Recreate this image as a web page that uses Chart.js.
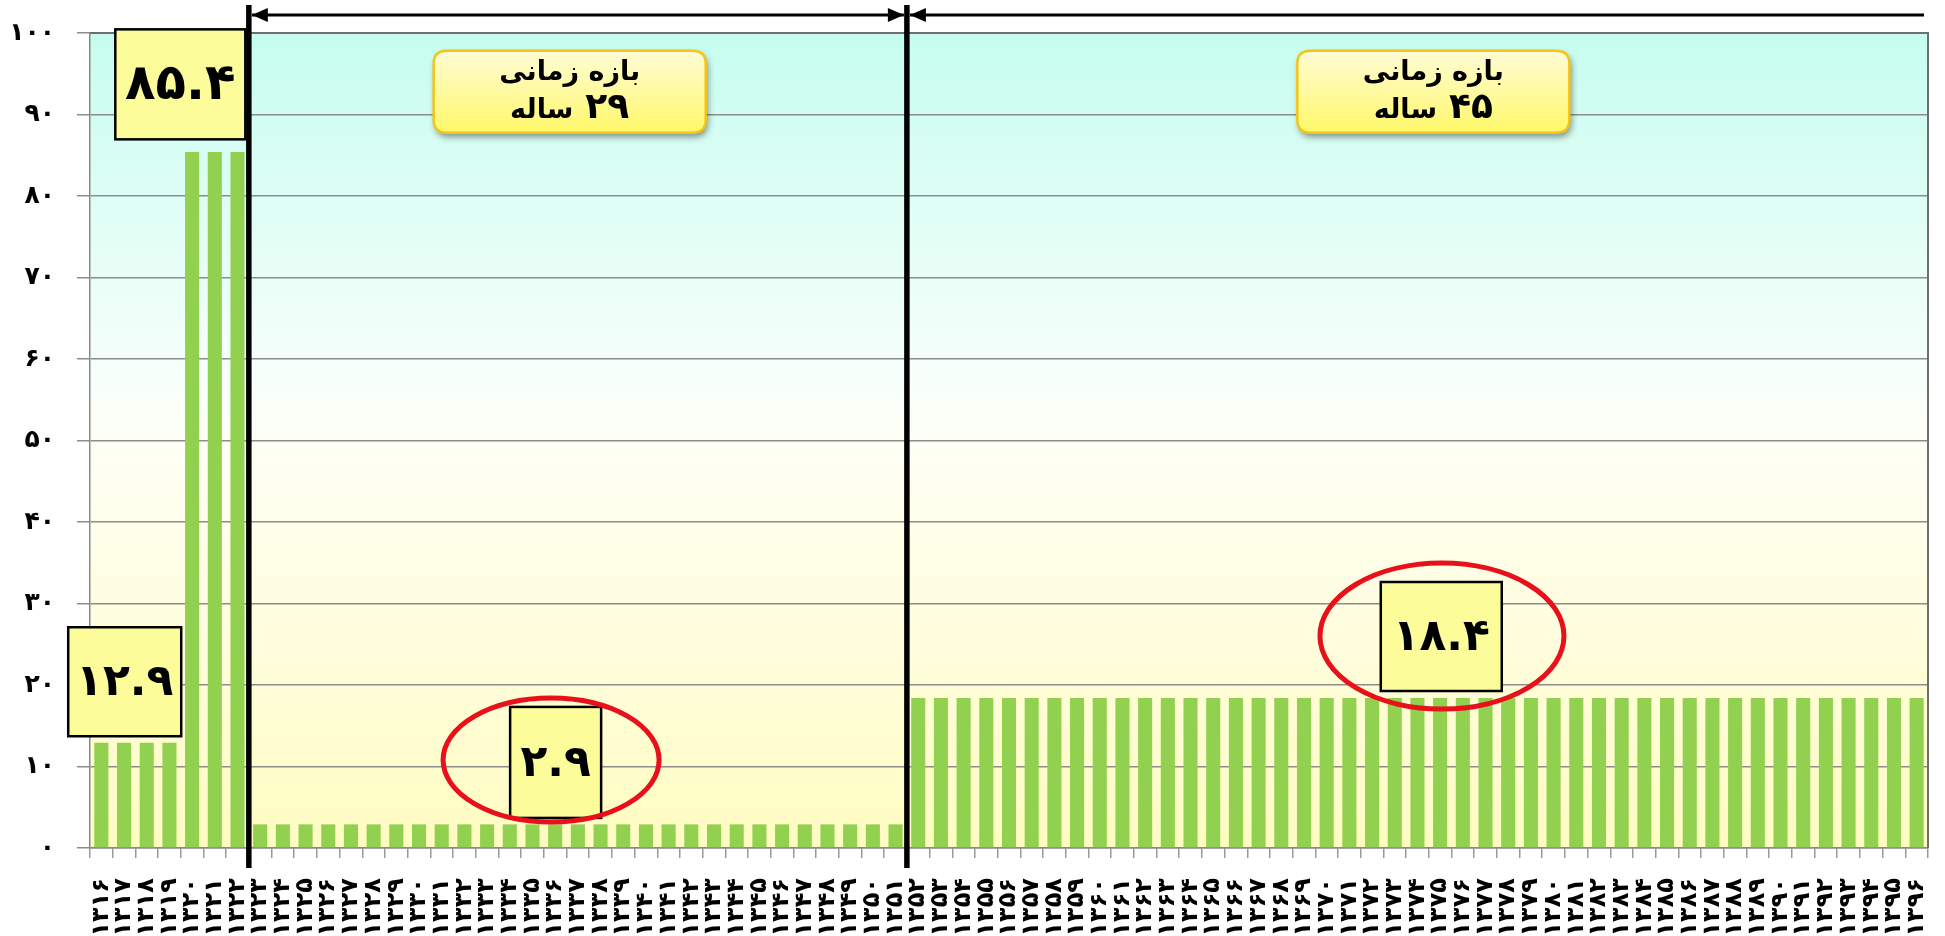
<!DOCTYPE html>
<html><head><meta charset="utf-8">
<script src="https://cdn.jsdelivr.net/npm/chart.js@4/dist/chart.umd.min.js"></script>
<style>html,body{margin:0;padding:0;background:#fff;overflow:hidden}</style>
</head><body>
<canvas id="c" width="1945" height="936"></canvas>
<script>
const years = [
'۱۳۱۶','۱۳۱۷','۱۳۱۸','۱۳۱۹',
'۱۳۲۰','۱۳۲۱','۱۳۲۲','۱۳۲۳','۱۳۲۴','۱۳۲۵','۱۳۲۶','۱۳۲۷','۱۳۲۸','۱۳۲۹',
'۱۳۳۰','۱۳۳۱','۱۳۳۲','۱۳۳۳','۱۳۳۴','۱۳۳۵','۱۳۳۶','۱۳۳۷','۱۳۳۸','۱۳۳۹',
'۱۳۴۰','۱۳۴۱','۱۳۴۲','۱۳۴۳','۱۳۴۴','۱۳۴۵','۱۳۴۶','۱۳۴۷','۱۳۴۸','۱۳۴۹',
'۱۳۵۰','۱۳۵۱','۱۳۵۲','۱۳۵۳','۱۳۵۴','۱۳۵۵','۱۳۵۶','۱۳۵۷','۱۳۵۸','۱۳۵۹',
'۱۳۶۰','۱۳۶۱','۱۳۶۲','۱۳۶۳','۱۳۶۴','۱۳۶۵','۱۳۶۶','۱۳۶۷','۱۳۶۸','۱۳۶۹',
'۱۳۷۰','۱۳۷۱','۱۳۷۲','۱۳۷۳','۱۳۷۴','۱۳۷۵','۱۳۷۶','۱۳۷۷','۱۳۷۸','۱۳۷۹',
'۱۳۸۰','۱۳۸۱','۱۳۸۲','۱۳۸۳','۱۳۸۴','۱۳۸۵','۱۳۸۶','۱۳۸۷','۱۳۸۸','۱۳۸۹',
'۱۳۹۰','۱۳۹۱','۱۳۹۲','۱۳۹۳','۱۳۹۴','۱۳۹۵','۱۳۹۶'
];
const values = [
12.9,12.9,12.9,12.9,
85.4,85.4,85.4,
2.9,2.9,2.9,2.9,2.9,2.9,2.9,2.9,2.9,2.9,
2.9,2.9,2.9,2.9,2.9,2.9,2.9,2.9,2.9,2.9,
2.9,2.9,2.9,2.9,2.9,2.9,2.9,2.9,2.9,
18.4,18.4,18.4,18.4,18.4,18.4,18.4,18.4,18.4,18.4,
18.4,18.4,18.4,18.4,18.4,18.4,18.4,18.4,18.4,18.4,
18.4,18.4,18.4,18.4,18.4,18.4,18.4,18.4,18.4,18.4,
18.4,18.4,18.4,18.4,18.4,18.4,18.4,18.4,18.4,18.4,
18.4,18.4,18.4,18.4,18.4
];
const yTickLabels = ['۰','۱۰','۲۰','۳۰','۴۰','۵۰','۶۰','۷۰','۸۰','۹۰','۱۰۰'];
const valueLabels = ['۱۲.۹','۸۵.۴','۲.۹','۱۸.۴'];
const periodTitle = 'بازه زمانی';
const periodYears = ['۲۹','۴۵'];
const periodWord = 'ساله';

const FONT = '"DejaVu Sans", sans-serif';

function rrect(ctx, x, y, w, h, r) {
  ctx.beginPath();
  ctx.moveTo(x + r, y);
  ctx.lineTo(x + w - r, y); ctx.quadraticCurveTo(x + w, y, x + w, y + r);
  ctx.lineTo(x + w, y + h - r); ctx.quadraticCurveTo(x + w, y + h, x + w - r, y + h);
  ctx.lineTo(x + r, y + h); ctx.quadraticCurveTo(x, y + h, x, y + h - r);
  ctx.lineTo(x, y + r); ctx.quadraticCurveTo(x, y, x + r, y);
  ctx.closePath();
}

const decor = {
  id: 'decor',
  beforeDraw(chart) {
    const {ctx, chartArea: a} = chart;
    const g = ctx.createLinearGradient(0, a.top, 0, a.bottom);
    g.addColorStop(0, '#c6fdef');
    g.addColorStop(0.42, '#f7fffb');
    g.addColorStop(0.52, '#fffff4');
    g.addColorStop(1, '#fffcc2');
    ctx.save();
    ctx.fillStyle = g;
    ctx.fillRect(a.left, a.top, a.right - a.left, a.bottom - a.top);
    ctx.restore();
  },
  afterDraw(chart) {
    const {ctx, chartArea: a} = chart;
    const xs = chart.scales.x, ys = chart.scales.y;
    ctx.save();
    ctx.strokeStyle = '#6e6e6e';
    ctx.lineWidth = 2;
    ctx.beginPath();
    ctx.moveTo(a.left, a.top); ctx.lineTo(a.right, a.top); ctx.lineTo(a.right, a.bottom);
    ctx.stroke();

    const b1 = xs.getPixelForValue(6.5);
    const b2 = xs.getPixelForValue(35.5);
    ctx.strokeStyle = '#000';
    ctx.lineWidth = 5.5;
    [b1, b2].forEach(x => {
      ctx.beginPath(); ctx.moveTo(x, 5); ctx.lineTo(x, a.bottom + 20); ctx.stroke();
    });
    const ay = 15;
    ctx.lineWidth = 3;
    ctx.beginPath(); ctx.moveTo(b1 + 3, ay); ctx.lineTo(b2 - 3, ay); ctx.stroke();
    ctx.beginPath(); ctx.moveTo(b2 + 3, ay); ctx.lineTo(a.right - 4, ay); ctx.stroke();
    function head(tipX, dir) {
      ctx.beginPath();
      ctx.moveTo(tipX, ay);
      ctx.lineTo(tipX + dir * 16, ay - 7);
      ctx.lineTo(tipX + dir * 16, ay + 7);
      ctx.closePath(); ctx.fillStyle = '#000'; ctx.fill();
    }
    head(b1 + 3, 1); head(b2 - 3, -1); head(b2 + 3, 1);

    const boxes = [
      {i: 1.03, v: 20.4, w: 113, h: 109, t: valueLabels[0], f: 44},
      {i: 3.48, v: 93.7, w: 130, h: 110, t: valueLabels[1], f: 50},
      {i: 20.02, v: 10.5, w: 91, h: 111, t: valueLabels[2], f: 44},
      {i: 59.05, v: 25.95, w: 121, h: 109, t: valueLabels[3], f: 44}
    ];
    boxes.forEach(b => {
      const cx = xs.getPixelForValue(b.i), cy = ys.getPixelForValue(b.v);
      ctx.fillStyle = '#fdfc9a';
      ctx.fillRect(cx - b.w / 2, cy - b.h / 2, b.w, b.h);
      ctx.strokeStyle = '#000'; ctx.lineWidth = 2.5;
      ctx.strokeRect(cx - b.w / 2, cy - b.h / 2, b.w, b.h);
      ctx.fillStyle = '#000';
      ctx.font = 'bold ' + b.f + 'px ' + FONT;
      ctx.textAlign = 'center'; ctx.textBaseline = 'middle';
      ctx.direction = 'ltr';
      ctx.fillText(b.t, cx, cy + 2);
    });
    const ells = [
      {i: 19.82, v: 10.8, rx: 108, ry: 62},
      {i: 59.08, v: 26.0, rx: 122, ry: 73}
    ];
    ctx.strokeStyle = '#e8101a'; ctx.lineWidth = 5;
    ells.forEach(e => {
      ctx.beginPath();
      ctx.ellipse(xs.getPixelForValue(e.i), ys.getPixelForValue(e.v), e.rx, e.ry, 0, 0, Math.PI * 2);
      ctx.stroke();
    });

    const callouts = [{i: 20.64, v: 92.8, y: periodYears[0]}, {i: 58.7, v: 92.8, y: periodYears[1]}];
    callouts.forEach(c => {
      const cx = xs.getPixelForValue(c.i), cy = ys.getPixelForValue(c.v);
      const w = 272, h = 82, x = cx - w / 2, y = cy - h / 2;
      ctx.save();
      ctx.shadowColor = 'rgba(0,0,0,0.45)'; ctx.shadowBlur = 7; ctx.shadowOffsetX = 2; ctx.shadowOffsetY = 4;
      const g = ctx.createLinearGradient(0, y, 0, y + h);
      g.addColorStop(0, '#fffcd6'); g.addColorStop(1, '#fff86a');
      ctx.fillStyle = g;
      rrect(ctx, x, y, w, h, 13); ctx.fill();
      ctx.restore();
      ctx.strokeStyle = '#f6c417'; ctx.lineWidth = 2.5;
      rrect(ctx, x, y, w, h, 13); ctx.stroke();
      ctx.fillStyle = '#000';
      ctx.textBaseline = 'middle'; ctx.textAlign = 'center'; ctx.direction = 'rtl';
      ctx.font = 'bold 27px ' + FONT;
      ctx.fillText(periodTitle, cx, y + 22);
      ctx.direction = 'ltr';
      ctx.font = 'bold 36px ' + FONT;
      const wn = ctx.measureText(c.y).width;
      ctx.font = 'bold 27px ' + FONT;
      const ww = ctx.measureText(periodWord).width;
      const gap = 12, tot = wn + gap + ww;
      const left = cx - tot / 2;
      ctx.textAlign = 'left';
      ctx.fillText(periodWord, left, y + 60);
      ctx.font = 'bold 36px ' + FONT;
      ctx.fillText(c.y, left + ww + gap, y + 58);
    });
    ctx.restore();
  }
};

new Chart(document.getElementById('c'), {
  type: 'bar',
  data: {
    labels: years,
    datasets: [{
      data: values,
      backgroundColor: '#92d050',
      borderWidth: 0,
      barPercentage: 0.62,
      categoryPercentage: 1
    }]
  },
  options: {
    responsive: false,
    devicePixelRatio: 1,
    animation: false,
    layout: {padding: {left: 0, top: 33, right: 17, bottom: 0}},
    plugins: {legend: {display: false}, tooltip: {enabled: false}},
    scales: {
      x: {
        afterFit(s) { s.height = 88; s.paddingLeft = 0; s.paddingRight = 0; },
        grid: {offset: true, drawOnChartArea: false, drawTicks: true, tickLength: 10, color: '#999', lineWidth: 1.5},
        border: {color: '#888', width: 1.5},
        ticks: {autoSkip: false, minRotation: 90, maxRotation: 90, padding: 20, color: '#000',
                font: {family: FONT, size: 24, weight: 'bold'}}
      },
      y: {
        min: 0, max: 100,
        afterFit(s) { s.width = 90; s.paddingTop = 0; s.paddingBottom = 0; },
        grid: {color: '#8c8c8c', lineWidth: 1.5, tickLength: 13},
        border: {color: '#888', width: 1.5},
        ticks: {stepSize: 10, padding: 22, color: '#000',
                font: {family: FONT, size: 25, weight: 'bold'},
                callback: (v, i) => yTickLabels[i]}
      }
    }
  },
  plugins: [decor]
});
</script>
</body></html>
